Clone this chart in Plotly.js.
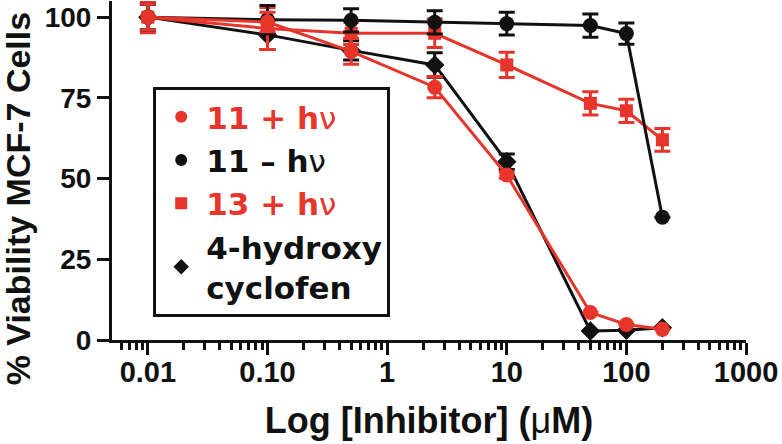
<!DOCTYPE html>
<html>
<head>
<meta charset="utf-8">
<script src="https://cdn.plot.ly/plotly-3.0.1.min.js"></script>
<style>html,body{margin:0;padding:0;background:#fff;}#chart{width:782px;height:444px;}</style>
</head>
<body>
<div id="chart"></div>
<script>
// concentrations (uM)
const conc = [0.01, 0.1, 0.5, 2.5, 10, 50, 100, 200];
// % viability values
const viab11Light = [100, 98.5, 89.4, 78.3, 51.1, 8.5, 4.8, 3.3];
const err11Light  = [4, 3, 4, 3.3, 1, 0, 0, 0];
const viab11Dark  = [100, 99.2, 99.0, 98.4, 98.0, 97.4, 94.9, 38];
const err11Dark   = [4, 4.4, 3.6, 3.6, 3.5, 3.6, 3.3, 0];
const viab13Light = [100, 96.5, 95, 95, 85.2, 73.3, 71, 62];
const err13Light  = [4.8, 6.5, 3.5, 4.4, 3.9, 3.6, 3.6, 3.5];
const viabCyclo   = [100, 94.5, 89.7, 85.2, 55.2, 2.8, 3, 3.8];
const errCyclo    = [4, 4.5, 3, 3.8, 2.4, 0, 0, 0];
// axis ticks
const xTickVals = [0.01, 0.1, 1, 10, 100, 1000];
const xTickText = ['0.01', '0.10', '1', '10', '100', '1000'];
const yTickVals = [0, 25, 50, 75, 100];
// legend labels
const nu = "<span style='font-weight:normal'>ν</span>";
const names = [
  "<span style='color:#e8352b'>11 + h" + nu + "</span>",
  "11 – h" + nu,
  "<span style='color:#e8352b'>13 + h" + nu + "</span>",
  "4-hydroxy<br>cyclofen"
];

const RED = '#e8352b', BLK = '#111111';
const FONT = '"Liberation Sans", Arial, Helvetica, sans-serif';
const LFONT = '"DejaVu Sans", "Liberation Sans", sans-serif';

const minorVals = [];
for (let e = -3; e < 3; e++) {
  for (let d = 2; d <= 9; d++) minorVals.push(d * Math.pow(10, e));
}

function series(y, err, color, symbol, size) {
  return {
    x: conc, y: y, type: 'scatter', mode: 'lines+markers', showlegend: false,
    line: {color: color, width: 3},
    marker: {color: color, symbol: symbol, size: size},
    error_y: {type: 'data', array: err, visible: true, color: color, thickness: 3, width: 8},
    cliponaxis: false
  };
}
function legendEntry(name, color, symbol) {
  return {x: [null], y: [null], type: 'scatter', mode: 'markers', name: name,
          marker: {color: color, symbol: symbol, size: 16}};
}

const data = [
  series(viabCyclo, errCyclo, BLK, 'diamond', 15),
  series(viab13Light, err13Light, RED, 'square', 13),
  series(viab11Dark, err11Dark, BLK, 'circle', 15),
  series(viab11Light, err11Light, RED, 'circle', 15),
  legendEntry(names[0], RED, 'circle'),
  legendEntry(names[1], BLK, 'circle'),
  legendEntry(names[2], RED, 'square'),
  legendEntry(names[3], BLK, 'diamond')
];

const layout = {
  width: 782, height: 444,
  margin: {l: 112, r: 36, t: 1, b: 104},
  paper_bgcolor: '#fff', plot_bgcolor: '#fff',
  font: {family: FONT, color: BLK},
  showlegend: true,
  legend: {
    x: 0.065, y: 0.746, xanchor: 'left', yanchor: 'top',
    bgcolor: '#fff', bordercolor: BLK, borderwidth: 3,
    font: {family: LFONT, size: 31, weight: 'bold', color: BLK},
    traceorder: 'normal', itemsizing: 'constant', itemwidth: 40
  },
  xaxis: {
    type: 'log', range: [-2.3, 3],
    tickmode: 'array', tickvals: xTickVals, ticktext: xTickText,
    ticks: 'outside', ticklen: 12, tickwidth: 3, tickcolor: BLK,
    minor: {tickmode: 'array', tickvals: minorVals, ticks: 'outside', ticklen: 7, tickwidth: 3, tickcolor: BLK, showgrid: false},
    showline: true, linewidth: 3, linecolor: BLK,
    showgrid: false, zeroline: false,
    ticklabelstandoff: -8,
    tickfont: {family: FONT, size: 29, weight: 'bold', color: BLK},
    title: {text: '<b>Log [Inhibitor] (</b>μ<b>M)</b>', font: {family: FONT, size: 36, color: BLK}, standoff: 22}
  },
  yaxis: {
    range: [0, 105],
    tickmode: 'array', tickvals: yTickVals,
    ticks: 'outside', ticklen: 12, tickwidth: 3, tickcolor: BLK,
    showline: true, linewidth: 3, linecolor: BLK,
    showgrid: false, zeroline: false,
    tickfont: {family: FONT, size: 28, weight: 'bold', color: BLK}
  },
  annotations: [{
    text: '<b>% Viability MCF-7 Cells</b>', textangle: -90,
    xref: 'paper', yref: 'paper', x: 0, y: 0.415, xanchor: 'center', yanchor: 'middle',
    xshift: -94, showarrow: false,
    font: {family: FONT, size: 34, color: BLK}
  }]
};

Plotly.newPlot('chart', data, layout, {displayModeBar: false, staticPlot: true});
</script>
</body>
</html>
